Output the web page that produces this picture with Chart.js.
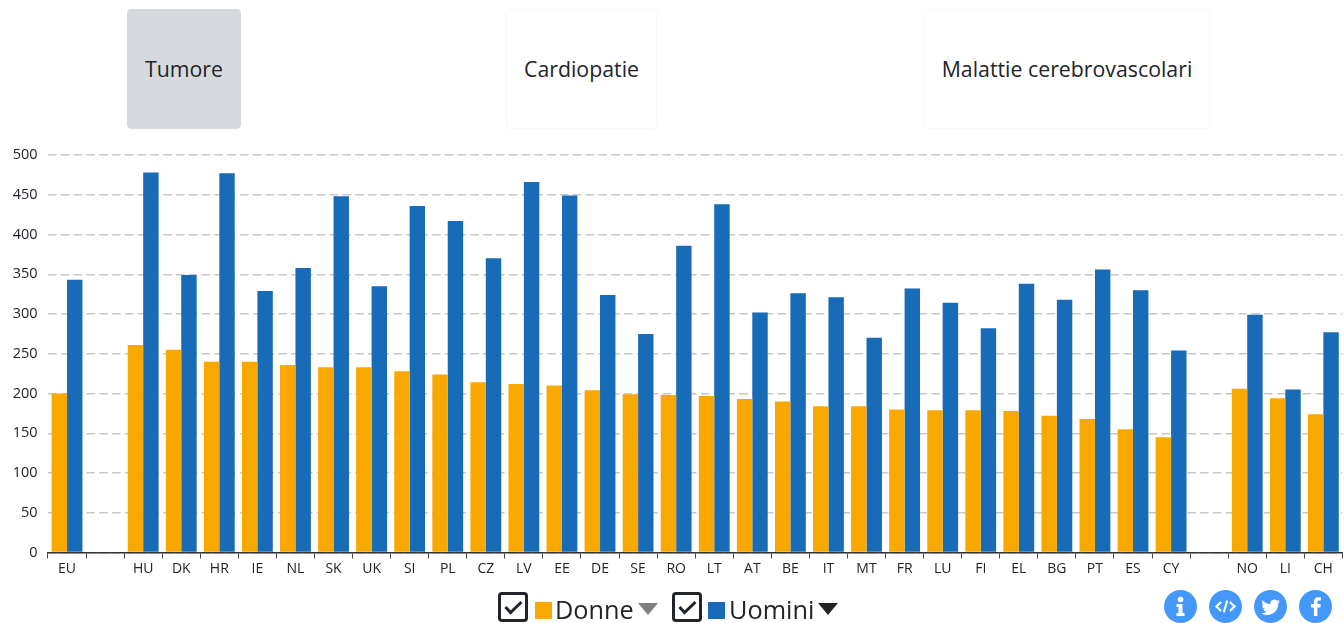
<!DOCTYPE html>
<html><head><meta charset="utf-8">
<script src="https://cdn.jsdelivr.net/npm/chart.js@4/dist/chart.umd.min.js"></script>
<style>
html,body{margin:0;padding:0;background:#fff;overflow:hidden;width:1344px;height:623px;font-family:"Open Sans","Noto Sans",sans-serif;color:#212529}
#wrap{position:absolute;left:0;top:0;width:1344px;height:623px}
.btn{position:absolute;top:9px;height:120px;box-sizing:border-box;border:1px solid #f8f9fa;border-radius:4px;display:flex;align-items:center;justify-content:center;font-size:21.3px;background:#fff;padding-bottom:1px}
.btn.active{background:#d6dade;border-color:#d6dade}
.leg{position:absolute;top:590px;height:32px;font-size:25.3px;line-height:38px;white-space:nowrap}
.box{position:absolute;box-sizing:border-box;width:30px;height:30px;border:3px solid #212529;border-radius:4px;top:591.5px}
.sw{position:absolute;width:17px;height:17px;top:602px}
.tri{position:absolute;top:602.5px;width:0;height:0;border-left:10px solid transparent;border-right:10px solid transparent}
.ic{position:absolute;top:590px;width:33px;height:33px}
</style></head><body>
<div id="wrap"><canvas id="c" width="1344" height="623"></canvas></div>
<div class="btn active" style="left:127px;width:114px">Tumore</div>
<div class="btn" style="left:506px;width:151px">Cardiopatie</div>
<div class="btn" style="left:924px;width:286px">Malattie cerebrovascolari</div>

<svg class="box" style="left:497.5px" viewBox="0 0 24 24"><path d="M4.500 12l5 5.500L20.500 7" fill="none" stroke="#212529" stroke-width="3"/></svg>
<div class="sw" style="left:534.5px;background:#f9a800"></div>
<div class="leg" style="left:555px">Donne</div>
<div class="tri" style="left:638px;border-top:12px solid #808080"></div>
<svg class="box" style="left:671.5px" viewBox="0 0 24 24"><path d="M4.500 12l5 5.500L20.500 7" fill="none" stroke="#212529" stroke-width="3"/></svg>
<div class="sw" style="left:708px;background:#176bb7"></div>
<div class="leg" style="left:729px">Uomini</div>
<div class="tri" style="left:818px;border-top:12px solid #212529"></div>

<svg class="ic" style="left:1164px" viewBox="0 0 33 33"><circle cx="16.5" cy="16.5" r="16.5" fill="#4598fb"/><circle cx="16.5" cy="9.5" r="2.8" fill="#fff"/><path d="M12.5 14h6v9h2v3h-8v-3h2v-6h-2z" fill="#fff"/></svg>
<svg class="ic" style="left:1209px" viewBox="0 0 33 33"><circle cx="16.5" cy="16.5" r="16.5" fill="#4598fb"/><path d="M12 12l-4.5 4.5L12 21M21 12l4.5 4.5L21 21M18.2 10.5l-3.4 12" fill="none" stroke="#fff" stroke-width="2.2"/></svg>
<svg class="ic" style="left:1254px" viewBox="0 0 33 33"><circle cx="16.5" cy="16.5" r="16.5" fill="#4598fb"/><path d="M26 11.3c-.7.3-1.4.5-2.2.6.8-.5 1.4-1.2 1.7-2.1-.8.4-1.6.8-2.5 1a3.9 3.9 0 0 0-6.6 3.5c-3.2-.2-6-1.7-7.9-4-.9 1.700-.4 3.900 1.200 5.100-.6 0-1.200-.2-1.700-.5 0 1.900 1.300 3.500 3.100 3.900-.6.2-1.200.2-1.800.1.500 1.500 1.900 2.600 3.600 2.700A7.800 7.800 0 0 1 7 23.200c1.700 1.100 3.800 1.800 6 1.800 7.300 0 11.300-6 11.300-11.300v-.5c.7-.6 1.300-1.200 1.700-1.900z" fill="#fff"/></svg>
<svg class="ic" style="left:1299px" viewBox="0 0 33 33"><circle cx="16.5" cy="16.500" r="16.500" fill="#4598fb"/><path d="M18.400 26v-8.500h2.900l.5-3.400h-3.400V12c0-1 .3-1.600 1.700-1.600h1.800V7.300c-.3 0-1.400-.1-2.600-.1-2.600 0-4.400 1.600-4.400 4.500v2.400h-3v3.400h3V26z" fill="#fff"/></svg>

<script>
const categories = ["EU","","HU","DK","HR","IE","NL","SK","UK","SI","PL","CZ","LV","EE","DE","SE","RO","LT","AT","BE","IT","MT","FR","LU","FI","EL","BG","PT","ES","CY"," ","NO","LI","CH"];
const donne  = [200,null,261,255,240,240,236,233,233,228,224,214,212,210,204,199,198,197,193,190,184,184,180,179,179,178,172,168,155,145,null,206,194,174];
const uomini = [343,null,478,349,477,329,358,448,335,436,417,370,466,449,324,275,386,438,302,326,321,270,332,314,282,338,318,356,330,254,null,299,205,277];
const yTicks = [0,50,100,150,200,250,300,350,400,450,500];

new Chart(document.getElementById('c'),{
  type:'bar',
  data:{labels:categories,datasets:[
    {label:'Donne',data:donne,backgroundColor:'#f9a800',borderWidth:0},
    {label:'Uomini',data:uomini,backgroundColor:'#176bb7',borderWidth:0}
  ]},
  options:{
    responsive:false,animation:false,
    layout:{padding:{top:155,left:0,right:1.6,bottom:0}},
    plugins:{legend:{display:false},tooltip:{enabled:false},title:{display:false}},
    datasets:{bar:{categoryPercentage:0.81,barPercentage:1}},
    scales:{
      x:{
        afterFit(s){s.height=70.5;},
        border:{color:'#333',width:1.5},
        grid:{drawOnChartArea:false,drawTicks:true,tickLength:6,tickColor:'#444',tickWidth:1},
        ticks:{autoSkip:false,maxRotation:0,minRotation:0,padding:2,color:'#212529',font:{family:'"Open Sans"',size:14}}
      },
      y:{
        min:0,max:500,
        afterFit(s){s.width=48;},
        afterBuildTicks(s){s.ticks=yTicks.map(v=>({value:v}));},
        border:{display:false,dash:[8.5,4.3]},
        grid:{color:'#c8c8c8',lineWidth:1.4,drawTicks:false},
        ticks:{padding:10.5,color:'#212529',font:{family:'"Open Sans"',size:14.5}}
      }
    }
  }
});
</script>
</body></html>
